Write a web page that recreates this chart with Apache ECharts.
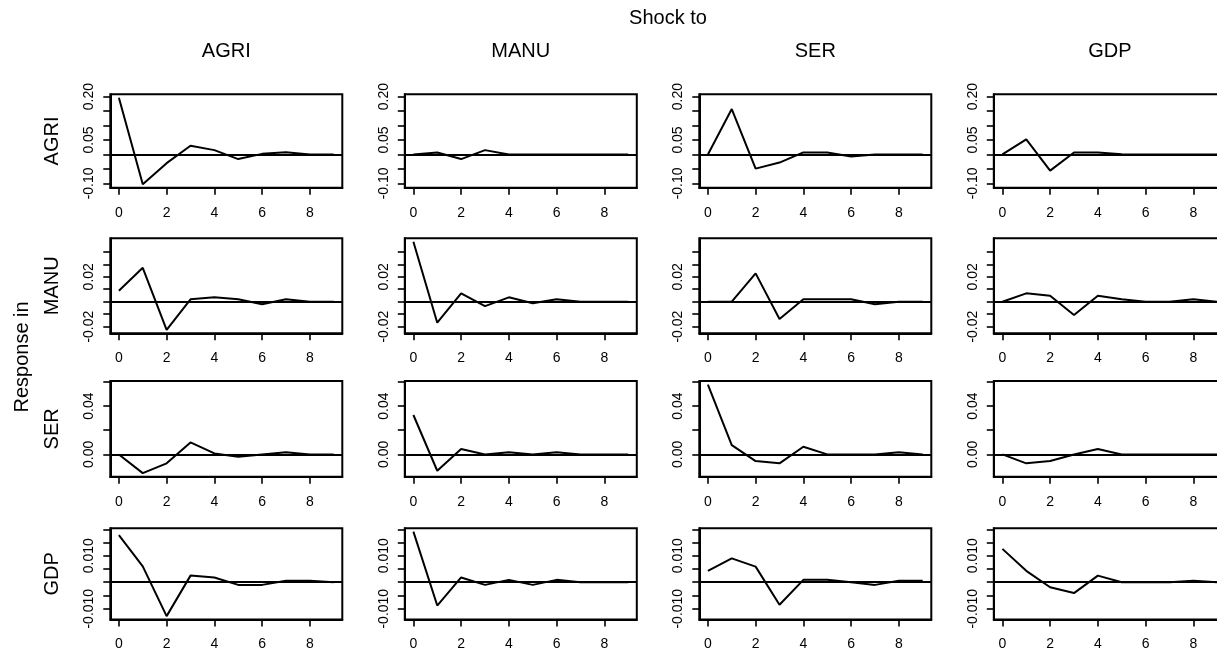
<!DOCTYPE html>
<html><head><meta charset="utf-8">
<script src="https://cdn.jsdelivr.net/npm/echarts@6/dist/echarts.min.js"></script>
<style>html,body{margin:0;padding:0;background:#fff}#c{width:1217px;height:656px}</style>
</head><body><div id="c"></div><script>
// ---------------- data ----------------
const horizon = [0, 1, 2, 3, 4, 5, 6, 7, 8, 9];
const shockNames = ['AGRI', 'MANU', 'SER', 'GDP'];      // columns ("Shock to")
const responseNames = ['AGRI', 'MANU', 'SER', 'GDP'];   // rows ("Response in")

// response of AGRI to shocks in AGRI, MANU, SER, GDP
const respAGRI = [
  [0.196, -0.103, -0.030, 0.030, 0.015, -0.016, 0.002, 0.008, 0.000, 0.000],
  [0.000, 0.007, -0.016, 0.015, 0.000, 0.000, 0.000, 0.000, 0.000, 0.000],
  [0.000, 0.157, -0.049, -0.028, 0.007, 0.007, -0.007, 0.000, 0.000, 0.000],
  [0.000, 0.052, -0.056, 0.007, 0.007, 0.001, 0.000, 0.000, 0.000, 0.000]
];
// response of MANU
const respMANU = [
  [0.0088, 0.0272, -0.0225, 0.0019, 0.0035, 0.0020, -0.0020, 0.0020, 0.0000, 0.0000],
  [0.0480, -0.0168, 0.0067, -0.0035, 0.0035, -0.0013, 0.0020, 0.0000, 0.0000, 0.0000],
  [0.0000, 0.0000, 0.0227, -0.0139, 0.0020, 0.0020, 0.0020, -0.0020, 0.0000, 0.0000],
  [0.0000, 0.0067, 0.0048, -0.0107, 0.0048, 0.0019, 0.0000, 0.0000, 0.0020, 0.0000]
];
// response of SER
const respSER = [
  [0.0000, -0.0155, -0.0074, 0.0099, 0.0008, -0.0020, 0.0000, 0.0017, 0.0000, 0.0000],
  [0.0326, -0.0135, 0.0044, 0.0000, 0.0017, 0.0000, 0.0017, 0.0000, 0.0000, 0.0000],
  [0.0578, 0.0077, -0.0055, -0.0074, 0.0063, 0.0000, 0.0000, 0.0000, 0.0017, 0.0000],
  [0.0000, -0.0074, -0.0055, 0.0000, 0.0044, 0.0000, 0.0000, 0.0000, 0.0000, 0.0000]
];
// response of GDP
const respGDP = [
  [0.0178, 0.0060, -0.0128, 0.0025, 0.0018, -0.0010, -0.0010, 0.0006, 0.0006, 0.0000],
  [0.0191, -0.0088, 0.0018, -0.0010, 0.0009, -0.0010, 0.0009, 0.0000, 0.0000, 0.0000],
  [0.0043, 0.0090, 0.0059, -0.0085, 0.0009, 0.0009, 0.0000, -0.0010, 0.0006, 0.0006],
  [0.0126, 0.0043, -0.0019, -0.0041, 0.0025, 0.0000, 0.0000, 0.0000, 0.0006, 0.0000]
];

// axis ticks and labels
const xTicks = [0, 2, 4, 6, 8];
const yTicksAGRI = [-0.10, -0.05, 0.00, 0.05, 0.10, 0.15, 0.20];
const yTicksMANU = [-0.02, -0.01, 0.00, 0.01, 0.02, 0.03, 0.04];
const yTicksSER = [0.00, 0.02, 0.04, 0.06];
const yTicksGDP = [-0.010, -0.005, 0.000, 0.005, 0.010, 0.015, 0.020];
const yLabelValsAGRI = [-0.10, 0.05, 0.20];
const yLabelTextAGRI = ['-0.10', '0.05', '0.20'];
const yLabelValsMANU = [-0.02, 0.02];
const yLabelTextMANU = ['-0.02', '0.02'];
const yLabelValsSER = [0.00, 0.04];
const yLabelTextSER = ['0.00', '0.04'];
const yLabelValsGDP = [-0.010, 0.010];
const yLabelTextGDP = ['-0.010', '0.010'];

// ---------------- layout ----------------
const FONT = '"Liberation Sans", Arial, Helvetica, sans-serif';
const colLeft = [110.3, 404.8, 699.3, 993.8];
const boxW = 232;
const rowTop = [94.3, 238.3, 381, 528.3];
const rowBot = [187.7, 333.3, 476.7, 619.5];
const TICK_FS = 14;

const rowsData = [respAGRI, respMANU, respSER, respGDP];
const rowTicks = [yTicksAGRI, yTicksMANU, yTicksSER, yTicksGDP];
const rowLabVals = [yLabelValsAGRI, yLabelValsMANU, yLabelValsSER, yLabelValsGDP];
const rowLabText = [yLabelTextAGRI, yLabelTextMANU, yLabelTextSER, yLabelTextGDP];

const grid = [], xAxis = [], yAxis = [], series = [];
const blk = '#000';
for (let r = 0; r < 4; r++) {
  const all = rowsData[r].flat();
  const lo = Math.min(...all), hi = Math.max(...all), pad = 0.04 * (hi - lo);
  const hLo = horizon[0], hHi = horizon[horizon.length - 1], hPad = 0.04 * (hHi - hLo);
  for (let c = 0; c < 4; c++) {
    const gi = r * 4 + c;
    grid.push({
      left: colLeft[c], top: rowTop[r], width: boxW, height: rowBot[r] - rowTop[r],
      show: true, borderColor: blk, borderWidth: 2, backgroundColor: 'transparent',
      containLabel: false, outerBoundsMode: 'none'
    });
    xAxis.push({
      gridIndex: gi, type: 'value', min: hLo - hPad, max: hHi + hPad,
      axisLine: { show: true, onZero: false, lineStyle: { color: blk, width: 2 } },
      axisTick: { show: true, inside: false, length: 7, customValues: xTicks, lineStyle: { color: blk, width: 1.6 } },
      axisLabel: { show: true, customValues: xTicks, margin: 18, fontSize: TICK_FS, color: blk, fontFamily: FONT },
      splitLine: { show: false }
    });
    const vals = rowLabVals[r], txt = rowLabText[r];
    yAxis.push({
      gridIndex: gi, type: 'value', min: lo - pad, max: hi + pad,
      axisLine: { show: true, onZero: false, lineStyle: { color: blk, width: 2 } },
      axisTick: { show: true, inside: false, length: 7, customValues: rowTicks[r], lineStyle: { color: blk, width: 1.6 } },
      axisLabel: {
        show: true, customValues: vals, rotate: 90, margin: 14, fontSize: TICK_FS, color: blk, fontFamily: FONT,
        formatter: function (v) {
          const i = vals.findIndex(x => Math.abs(x - v) < 1e-9);
          return i >= 0 ? txt[i] : '';
        }
      },
      splitLine: { show: false }
    });
    series.push({
      type: 'line', xAxisIndex: gi, yAxisIndex: gi,
      data: horizon.map((h, i) => [h, rowsData[r][c][i]]),
      symbol: 'none', silent: true,
      lineStyle: { color: blk, width: 2 },
      markLine: {
        silent: true, symbol: 'none', label: { show: false },
        lineStyle: { color: blk, width: 1.8, type: 'solid' },
        data: [{ yAxis: 0 }]
      }
    });
  }
}

const graphic = [];
const txtStyle = (t) => ({ text: t, fontSize: 20, fontFamily: FONT, fill: blk, textAlign: 'center', textVerticalAlign: 'middle', align: 'center', verticalAlign: 'middle' });
graphic.push({ type: 'text', x: 668, y: 18.5, style: txtStyle('Shock to') });
for (let c = 0; c < 4; c++) {
  graphic.push({ type: 'text', x: colLeft[c] + boxW / 2, y: 51, style: txtStyle(shockNames[c]) });
}
graphic.push({ type: 'text', x: 22, y: (rowTop[0] + rowBot[3]) / 2, rotation: Math.PI / 2, style: txtStyle('Response in') });
for (let r = 0; r < 4; r++) {
  graphic.push({ type: 'text', x: 52, y: (rowTop[r] + rowBot[r]) / 2, rotation: Math.PI / 2, style: txtStyle(responseNames[r]) });
}

const chart = echarts.init(document.getElementById('c'), null, { renderer: 'canvas' });
chart.setOption({
  animation: false,
  backgroundColor: '#fff',
  grid, xAxis, yAxis, series, graphic
});
</script></body></html>
